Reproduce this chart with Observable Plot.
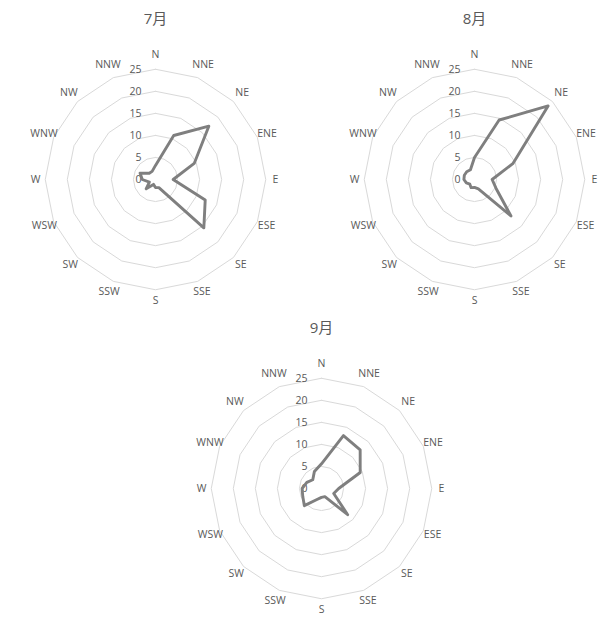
<!DOCTYPE html>
<html>
<head>
<meta charset="utf-8">
<script src="https://cdn.jsdelivr.net/npm/d3@7"></script>
<script src="https://cdn.jsdelivr.net/npm/@observablehq/plot@0.6"></script>
<style>
  html, body { margin: 0; padding: 0; background: #ffffff; }
  #root { position: relative; width: 609px; height: 617px; overflow: hidden; }
  .panel { position: absolute; }
  .panel svg { overflow: visible; }
</style>
</head>
<body>
<div id="root"></div>
<script>
// ---- data ----
const directions = ["N","NNE","NE","ENE","E","ESE","SE","SSE","S","SSW","SW","WSW","W","WNW","NW","NNW"];
const months = ["7月","8月","9月"];
const july   = [3.2, 10.8, 17.1, 9.5, 4.0, 12.2, 15.5, 2.0, 1.8, 1.2, 3.0, 1.5, 3.0, 3.8, 2.0, 2.0];
const august = [5.0, 14.6, 23.6, 9.4, 4.0, 5.3, 11.7, 2.3, 1.8, 2.0, 1.5, 2.0, 2.4, 2.5, 2.5, 2.4];
const september = [5.6, 13.0, 12.4, 9.5, 3.9, 3.0, 8.4, 2.0, 2.0, 2.7, 5.5, 4.6, 4.4, 3.6, 2.8, 4.2];
const ringLevels = [5, 10, 15, 20, 25];
const tickLabels = [0, 5, 10, 15, 20, 25];

// ---- layout ----
const pxPerUnit = 4.41;
const W = 270, H = 300, centerX = 135, centerY = 172;
const panels = [
  {title: months[0], values: july,      left: 155 - centerX, top: 178.5 - centerY},
  {title: months[1], values: august,    left: 474 - centerX, top: 178.8 - centerY},
  {title: months[2], values: september, left: 321 - centerX, top: 488 - centerY}
];
const font = "'Open Sans', 'Noto Sans', 'Noto Sans CJK SC', sans-serif";
const textColor = "#595959";
// label distance (px) from centre: a little further out at the top than at the bottom
const labelRadius = a => {
  const c = Math.cos(a);
  return (120 + (c > 0 ? 5 : 1.5) * c * c) / pxPerUnit;
};

function radar(title, values) {
  const step = 2 * Math.PI / directions.length;
  const pts = directions.map((d, i) => ({dir: d, angle: i * step, value: values[i]}));
  const closed = [...pts, pts[0]];
  const ringData = ringLevels.flatMap(l =>
    d3.range(directions.length + 1).map(i => ({level: l, angle: (i % directions.length) * step})));
  return Plot.plot({
    width: W, height: H, margin: 0,
    x: {domain: [-centerX / pxPerUnit, (W - centerX) / pxPerUnit], axis: null},
    y: {domain: [-(H - centerY) / pxPerUnit, centerY / pxPerUnit], axis: null},
    style: {overflow: "visible", fontFamily: font, color: textColor, background: "transparent"},
    marks: [
      Plot.line(ringData, {
        x: d => d.level * Math.sin(d.angle), y: d => d.level * Math.cos(d.angle),
        z: "level", stroke: "#d9d9d9", strokeWidth: 1
      }),
      Plot.text(tickLabels, {
        x: () => 0, y: d => d, text: d => String(d),
        textAnchor: "end", dx: -14, fontSize: 10.5, fill: textColor
      }),
      Plot.line(closed, {
        x: d => d.value * Math.sin(d.angle), y: d => d.value * Math.cos(d.angle),
        stroke: "#7f7f7f", strokeWidth: 2.9, strokeLinejoin: "round", curve: "linear"
      }),
      Plot.text(pts, {
        x: d => labelRadius(d.angle) * Math.sin(d.angle), y: d => labelRadius(d.angle) * Math.cos(d.angle),
        text: "dir", fontSize: 10.5, fill: textColor
      }),
      Plot.text([title], {
        frameAnchor: "top", dy: 11.5, lineAnchor: "middle", text: d => d,
        fontSize: 15, fill: textColor
      })
    ]
  });
}

const root = document.getElementById("root");
for (const p of panels) {
  const div = document.createElement("div");
  div.className = "panel";
  div.style.left = p.left + "px";
  div.style.top = p.top + "px";
  div.appendChild(radar(p.title, p.values));
  root.appendChild(div);
}
</script>
</body>
</html>
